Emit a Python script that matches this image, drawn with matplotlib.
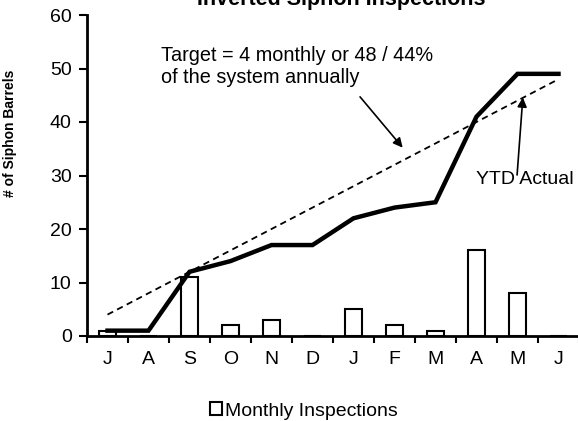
import numpy as np
import matplotlib
matplotlib.use('Agg')
import matplotlib.pyplot as plt

plt.rcParams['font.family'] = ['Liberation Sans', 'DejaVu Sans']

months = ['J', 'A', 'S', 'O', 'N', 'D', 'J', 'F', 'M', 'A', 'M', 'J']
monthly = [1, 0, 11, 2, 3, 0, 5, 2, 1, 16, 8, 0]
ytd_actual = [1, 1, 12, 14, 17, 17, 22, 24, 25, 41, 49, 49]
target = [4, 8, 12, 16, 20, 24, 28, 32, 36, 40, 44, 48]


def main():
    fig = plt.figure(figsize=(5.78, 4.21), dpi=100)
    ax = fig.add_axes([87 / 578, 1 - 336 / 421, 492 / 578, 321 / 421])

    x = np.arange(len(months))
    bars = ax.bar(x, monthly, width=0.42, color='white', edgecolor='black',
                  linewidth=1.5, label='Monthly Inspections', zorder=2)
    ax.plot(x, target, color='black', linestyle=(0, (3.5, 2.5)), linewidth=1.3, zorder=3)
    ax.plot(x, ytd_actual, color='black', linewidth=3.2, solid_joinstyle='miter', zorder=4)

    ax.set_xlim(-0.5, 11.5)
    ax.set_ylim(0, 60)
    ax.set_yticks(range(0, 61, 10))
    ax.set_xticks(np.arange(-0.5, 12, 1))
    ax.set_xticklabels([])
    ax.set_xticks(x, minor=True)
    ax.set_xticklabels(months, minor=True)
    ax.tick_params(axis='x', which='minor', length=0, pad=11, labelsize=14)
    ax.tick_params(axis='x', which='major', length=5, width=1.5)
    ax.tick_params(axis='y', length=6, width=1.5, labelsize=14, pad=5)

    for s in ['top', 'right']:
        ax.spines[s].set_visible(False)
    for s in ['left', 'bottom']:
        ax.spines[s].set_linewidth(2)

    ax.set_ylabel('# of Siphon Barrels', fontsize=10, fontweight='bold')
    ax.yaxis.set_label_coords(-0.142, 0.631)

    fig.text(341 / 578, 1 - 5 / 421, 'Inverted Siphon Inspections', ha='center',
             va='baseline', fontsize=15.5, fontweight='bold')

    ax.text(1.31, 54.2, 'Target = 4 monthly or 48 / 44%\nof the system annually',
            fontsize=14.3, va='top', ha='left', linespacing=1.2)
    ax.annotate('', xy=(7.2, 35.2), xytext=(6.16, 44.7),
                arrowprops=dict(arrowstyle='-|>', color='black', lw=1.2,
                                mutation_scale=14, shrinkA=0, shrinkB=0))
    ax.annotate('', xy=(10.13, 44.6), xytext=(9.99, 30.1),
                arrowprops=dict(arrowstyle='-|>', color='black', lw=1.2,
                                mutation_scale=14, shrinkA=0, shrinkB=0))
    ax.text(10.18, 29.2, 'YTD Actual', fontsize=14, ha='center', va='center',
            bbox=dict(facecolor='none', edgecolor='none', pad=0))

    fig.legend(handles=[bars], loc='center', bbox_to_anchor=(304 / 578, 1 - 411 / 421),
               frameon=False, fontsize=14, handlelength=0.6, handleheight=0.6,
               handletextpad=0.15)

    fig.savefig('out.png', dpi=100)


if __name__ == "__main__":
    main()
